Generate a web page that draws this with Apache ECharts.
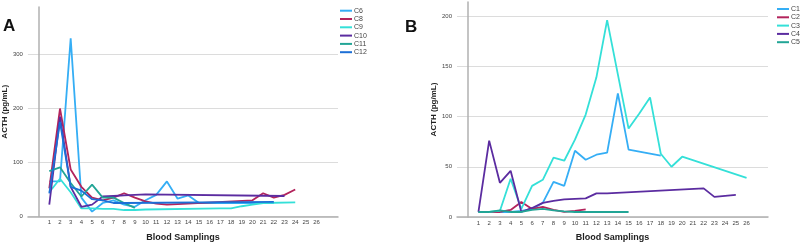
<!DOCTYPE html>
<html>
<head>
<meta charset="utf-8">
<script src="https://cdn.jsdelivr.net/npm/echarts@6/dist/echarts.min.js"></script>
<style>
  html, body { margin: 0; padding: 0; background: #fff; }
  #chart { width: 800px; height: 247px; }
</style>
</head>
<body>
<div id="chart"></div>
<script>
// panel A
const seriesNamesA = ['C6', 'C8', 'C9', 'C10', 'C11', 'C12']
const samplingsC6 = [1, 2, 3, 4, 5, 6, 7, 8, 9, 10, 11, 12, 13, 14, 15, 22]
const acthC6 = [65, 65, 330, 35, 9, 25, 30, 22, 18, 30, 40, 65, 33, 39, 25, 25]
const samplingsC8 = [1, 2, 3, 4, 5, 6, 7, 8, 9, 10, 11, 12, 13, 20, 21, 22, 23, 24]
const acthC8 = [52, 200, 87, 55, 35, 30, 35, 43, 35, 28, 24, 22, 23, 30, 43, 35, 40, 50]
const samplingsC9 = [1, 2, 3, 4, 5, 6, 7, 8, 9, 10, 17, 18, 19, 20, 21, 24]
const acthC9 = [45, 70, 45, 15, 15, 14, 14, 12, 12, 13, 15, 15, 19, 22, 25, 26]
const samplingsC10 = [1, 2, 3, 4, 5, 6, 7, 8, 9, 10, 23]
const acthC10 = [22, 185, 55, 18, 22, 37, 38, 39, 40, 41, 38]
const samplingsC11 = [1, 2, 3, 4, 5, 6, 7, 8, 9]
const acthC11 = [84, 91, 62, 37, 59, 35, 35, 25, 16]
const samplingsC12 = [1, 2, 3, 4, 5, 6, 7, 8, 22]
const acthC12 = [43, 175, 55, 48, 32, 30, 25, 25, 27]

// panel B
const seriesNamesB = ['C1', 'C2', 'C3', 'C4', 'C5']
const samplingsC1 = [1, 2, 3, 4, 5, 6, 7, 8, 9, 10, 11, 12, 13, 14, 15, 18]
const acthC1 = [5, 5, 5, 5, 6, 8, 14, 35, 31, 66, 57, 62, 64, 123, 67, 61]
const samplingsC2 = [1, 2, 3, 4, 5, 6, 7, 8, 9, 10, 11]
const acthC2 = [5, 5, 5, 7, 15, 8, 10, 7, 5, 6, 7.5]
const samplingsC3 = [1, 2, 3, 4, 5, 6, 7, 8, 9, 10, 11, 12, 13, 14, 15, 16, 17, 18, 19, 20, 26]
const acthC3 = [5, 5, 6, 38, 8, 31, 37, 59, 56, 77, 102, 139, 196, 142, 88, 103, 119, 63, 50, 60, 39]
const samplingsC4 = [1, 2, 3, 4, 5, 6, 7, 8, 9, 10, 11, 12, 13, 22, 23, 25]
const acthC4 = [5, 76, 34, 46, 5, 9, 14, 16, 17.5, 18, 18.5, 23.5, 23.5, 28.5, 20, 22]
const samplingsC5 = [1, 2, 3, 4, 5, 6, 7, 8, 9, 10, 11, 12, 13, 14, 15]
const acthC5 = [5, 5, 6.5, 5, 5, 7, 8, 6.5, 5.5, 5, 5, 5, 5, 5, 5]

const colorsA = ['#35aef5', '#b3245c', '#34e0d8', '#5b2ca0', '#22a596', '#1c6fd6']
const colorsB = ['#35aef5', '#b3245c', '#34e0d8', '#5b2ca0', '#22a596']

const FONT = 'Liberation Sans'

function pairs(xs, ys) {
  return xs.map((x, i) => [x, ys[i]])
}

function makeLine(name, xs, ys, color, idx) {
  return {
    name: name,
    type: 'line',
    xAxisIndex: idx,
    yAxisIndex: idx,
    data: pairs(xs, ys),
    symbol: 'none',
    color: color,
    lineStyle: { width: 1.8, color: color },
    animation: false
  }
}

function xAxisOf(gridIndex, gap) {
  return {
    gridIndex: gridIndex,
    type: 'value',
    min: -1,
    max: 28,
    interval: 1,
    name: 'Blood Samplings',
    nameLocation: 'middle',
    nameGap: gap,
    nameTextStyle: { fontFamily: FONT, fontWeight: 'bold', fontSize: 9, color: '#222' },
    axisLine: { show: true, lineStyle: { color: '#b0b0b0', width: 1.5 } },
    axisTick: { show: false },
    splitLine: { show: false },
    axisLabel: {
      fontFamily: FONT, fontSize: 6, color: '#444', margin: 3,
      formatter: v => (v >= 1 && v <= 26 ? String(v) : '')
    }
  }
}

function yAxisOf(gridIndex, max, interval, gap) {
  return {
    gridIndex: gridIndex,
    type: 'value',
    min: 0,
    max: max,
    interval: interval,
    name: 'ACTH (pg/mL)',
    nameLocation: 'middle',
    nameRotate: 90,
    nameGap: gap,
    nameTextStyle: { fontFamily: FONT, fontWeight: 'bold', fontSize: 8, color: '#222' },
    axisLine: { show: true, lineStyle: { color: '#b0b0b0', width: 1.5 } },
    axisTick: { show: false },
    splitLine: { show: true, showMaxLine: false, lineStyle: { color: '#dcdcdc', width: 1 } },
    axisLabel: { fontFamily: FONT, fontSize: 6, color: '#444', margin: 5, showMaxLabel: false }
  }
}

const legendStyle = {
  orient: 'vertical',
  itemWidth: 12,
  itemHeight: 2,
  itemGap: 0.3,
  icon: 'rect',
  padding: 0,
  textStyle: { fontFamily: FONT, fontSize: 7, lineHeight: 8, color: '#444', padding: [0, 0, 0, -3] }
}

const chart = echarts.init(document.getElementById('chart'), null, { renderer: 'canvas' })

const option = {
  backgroundColor: '#fff',
  animation: false,
  title: [
    { text: 'A', left: 3, top: 18, padding: 0, textStyle: { fontFamily: FONT, fontWeight: 'bold', fontSize: 17, color: '#111' } },
    { text: 'B', left: 405, top: 19, padding: 0, textStyle: { fontFamily: FONT, fontWeight: 'bold', fontSize: 17, color: '#111' } }
  ],
  legend: [
    Object.assign({ data: seriesNamesA, left: 340, top: 6.7 }, legendStyle),
    Object.assign({ data: seriesNamesB, left: 777, top: 5 }, legendStyle)
  ],
  grid: [
    { left: 27, right: 462, top: 7, bottom: 30.5 },
    { left: 457, right: 32, top: 2, bottom: 26.7 }
  ],
  xAxis: [xAxisOf(0, 16.5), xAxisOf(1, 16)],
  yAxis: [yAxisOf(0, 388, 100, 16.5), yAxisOf(1, 214, 50, 18)],
  series: [
    makeLine('C6', samplingsC6, acthC6, colorsA[0], 0),
    makeLine('C8', samplingsC8, acthC8, colorsA[1], 0),
    makeLine('C9', samplingsC9, acthC9, colorsA[2], 0),
    makeLine('C10', samplingsC10, acthC10, colorsA[3], 0),
    makeLine('C11', samplingsC11, acthC11, colorsA[4], 0),
    makeLine('C12', samplingsC12, acthC12, colorsA[5], 0),
    makeLine('C1', samplingsC1, acthC1, colorsB[0], 1),
    makeLine('C2', samplingsC2, acthC2, colorsB[1], 1),
    makeLine('C3', samplingsC3, acthC3, colorsB[2], 1),
    makeLine('C4', samplingsC4, acthC4, colorsB[3], 1),
    makeLine('C5', samplingsC5, acthC5, colorsB[4], 1)
  ]
}

chart.setOption(option)
</script>
</body>
</html>
